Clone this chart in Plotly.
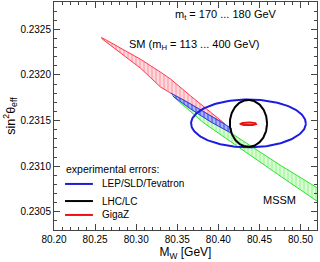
import numpy as np
import plotly.graph_objects as go

# SM-only region (red), vertices along upper edge then back along lower edge
sm_mw = [80.2576, 80.2808, 80.3053, 80.3298, 80.3420, 80.3665, 80.3947, 80.4082,
         80.3788, 80.3604, 80.3420, 80.3298, 80.3053, 80.2808, 80.2576]
sm_sw = [0.232413, 0.232292, 0.232172, 0.232030, 0.231954, 0.231768, 0.231560, 0.231462,
         0.231615, 0.231713, 0.231801, 0.231866, 0.232074, 0.232238, 0.232402]

# overlap SM & MSSM region (blue)
both_mw = [80.3420, 80.3665, 80.3910, 80.4155, 80.4155, 80.3910, 80.3665, 80.3445]
both_sw = [0.231801, 0.231680, 0.231549, 0.231418, 0.231363, 0.231484, 0.231626, 0.231768]

# MSSM-only region (green)
mssm_mw = [80.3457, 80.3665, 80.3910, 80.4155, 80.4339, 80.4767, 80.5282,
           80.5282, 80.4767, 80.4339, 80.4033, 80.3824, 80.3665, 80.3457]
mssm_sw = [0.231768, 0.231626, 0.231484, 0.231363, 0.231254, 0.231003, 0.230719,
           0.230566, 0.230883, 0.231145, 0.231342, 0.231473, 0.231593, 0.231757]

# experimental error ellipses
err_names = ["LEP/SLD/Tevatron", "LHC/LC", "GigaZ"]
err_colors = ["#1c1ce0", "#000000", "#ee1111"]
err_center_mw = [80.4366, 80.4366, 80.4367]
err_center_sw = [0.231469, 0.231469, 0.231464]
err_dmw = [0.0698, 0.02265, 0.0096]
err_dsw = [0.000262, 0.000257, 0.0000145]

FONT = "Liberation Sans, Arial, sans-serif"

fig = go.Figure()

fig.add_trace(go.Scatter(x=sm_mw, y=sm_sw, mode="lines", fill="toself",
                         line=dict(color="#ff3a4a", width=1),
                         fillcolor="#ffc4cb",
                         fillpattern=dict(shape="|", fgcolor="#ff8a98", bgcolor="#ffd8dd",
                                          size=4, solidity=0.45),
                         showlegend=False, hoverinfo="skip"))
fig.add_trace(go.Scatter(x=mssm_mw, y=mssm_sw, mode="lines", fill="toself",
                         line=dict(color="#2ee02e", width=1),
                         fillcolor="#c4ffc0",
                         fillpattern=dict(shape="|", fgcolor="#8cf088", bgcolor="#d8ffd4",
                                          size=4, solidity=0.45),
                         showlegend=False, hoverinfo="skip"))
fig.add_trace(go.Scatter(x=both_mw, y=both_sw, mode="lines", fill="toself",
                         line=dict(color="#3040e0", width=1),
                         fillcolor="#8a96ff",
                         fillpattern=dict(shape="|", fgcolor="#3848e8", bgcolor="#a8b0ff",
                                          size=4, solidity=0.5),
                         showlegend=False, hoverinfo="skip"))

t = np.linspace(0, 2 * np.pi, 200)
for name, col, cx, cy, dx, dy in zip(err_names, err_colors, err_center_mw, err_center_sw,
                                     err_dmw, err_dsw):
    fig.add_trace(go.Scatter(x=cx + dx * np.cos(t), y=cy + dy * np.sin(t), mode="lines",
                             line=dict(color=col, width=2), name=name, hoverinfo="skip",
                             showlegend=False))

# legend drawn as text + sample lines (paper coordinates)
fig.add_annotation(x=0.038, y=0.268, xref="paper", yref="paper", xanchor="left",
                   yanchor="middle", text="experimental errors:", showarrow=False,
                   font=dict(size=10.5, color="#000"))
leg_y = [0.202, 0.127, 0.066]
for name, col, yy in zip(err_names, err_colors, leg_y):
    fig.add_shape(type="line", xref="paper", yref="paper", x0=0.042, x1=0.148, y0=yy, y1=yy,
                  line=dict(color=col, width=2))
    fig.add_annotation(x=0.174, y=yy, xref="paper", yref="paper", xanchor="left",
                       yanchor="middle", text=name, showarrow=False,
                       font=dict(size=10, color="#000"))

fig.add_annotation(x=80.3445, y=0.232653, xref="x", yref="y", xanchor="left",
                   text="m<sub>t</sub> = 170 ... 180 GeV", showarrow=False,
                   font=dict(size=11, color="#000"))
fig.add_annotation(x=80.2894, y=0.232325, xref="x", yref="y", xanchor="left",
                   text="SM (m<sub>H</sub> = 113 ... 400 GeV)", showarrow=False,
                   font=dict(size=11, color="#000"))
fig.add_annotation(x=80.4523, y=0.230631, xref="x", yref="y", xanchor="left",
                   text="MSSM", showarrow=False, font=dict(size=11, color="#000"))

axis_common = dict(showline=True, linecolor="#444", linewidth=1, mirror="ticks",
                   ticks="inside", ticklen=6, tickcolor="#444", showgrid=False,
                   zeroline=False, tickfont=dict(size=10, color="#000"), automargin=False)
fig.update_xaxes(range=[80.20, 80.52], dtick=0.05, tick0=80.20, tickformat=".2f",
                 minor=dict(ticks="inside", ticklen=3, dtick=0.01, tickcolor="#444"),
                 title=dict(text="M<sub>W</sub> [GeV]", font=dict(size=12, color="#000"),
                            standoff=3),
                 **axis_common)
fig.update_yaxes(range=[0.2303, 0.2328], dtick=0.0005, tick0=0.2300, tickformat=".4f",
                 minor=dict(ticks="inside", ticklen=3, dtick=0.0001, tickcolor="#444"),
                 title=dict(text="sin<sup>2</sup>θ<sub>eff</sub>",
                            font=dict(size=12.5, color="#000"), standoff=2),
                 **axis_common)

fig.update_layout(width=320, height=262, margin=dict(l=54, r=3, t=2, b=32),
                  paper_bgcolor="white", plot_bgcolor="white", showlegend=False,
                  font=dict(family=FONT, size=10, color="#000"))

fig.write_html("out.html", config={"displayModeBar": False},
               post_script="document.body.style.margin='0';document.body.style.padding='0';")
